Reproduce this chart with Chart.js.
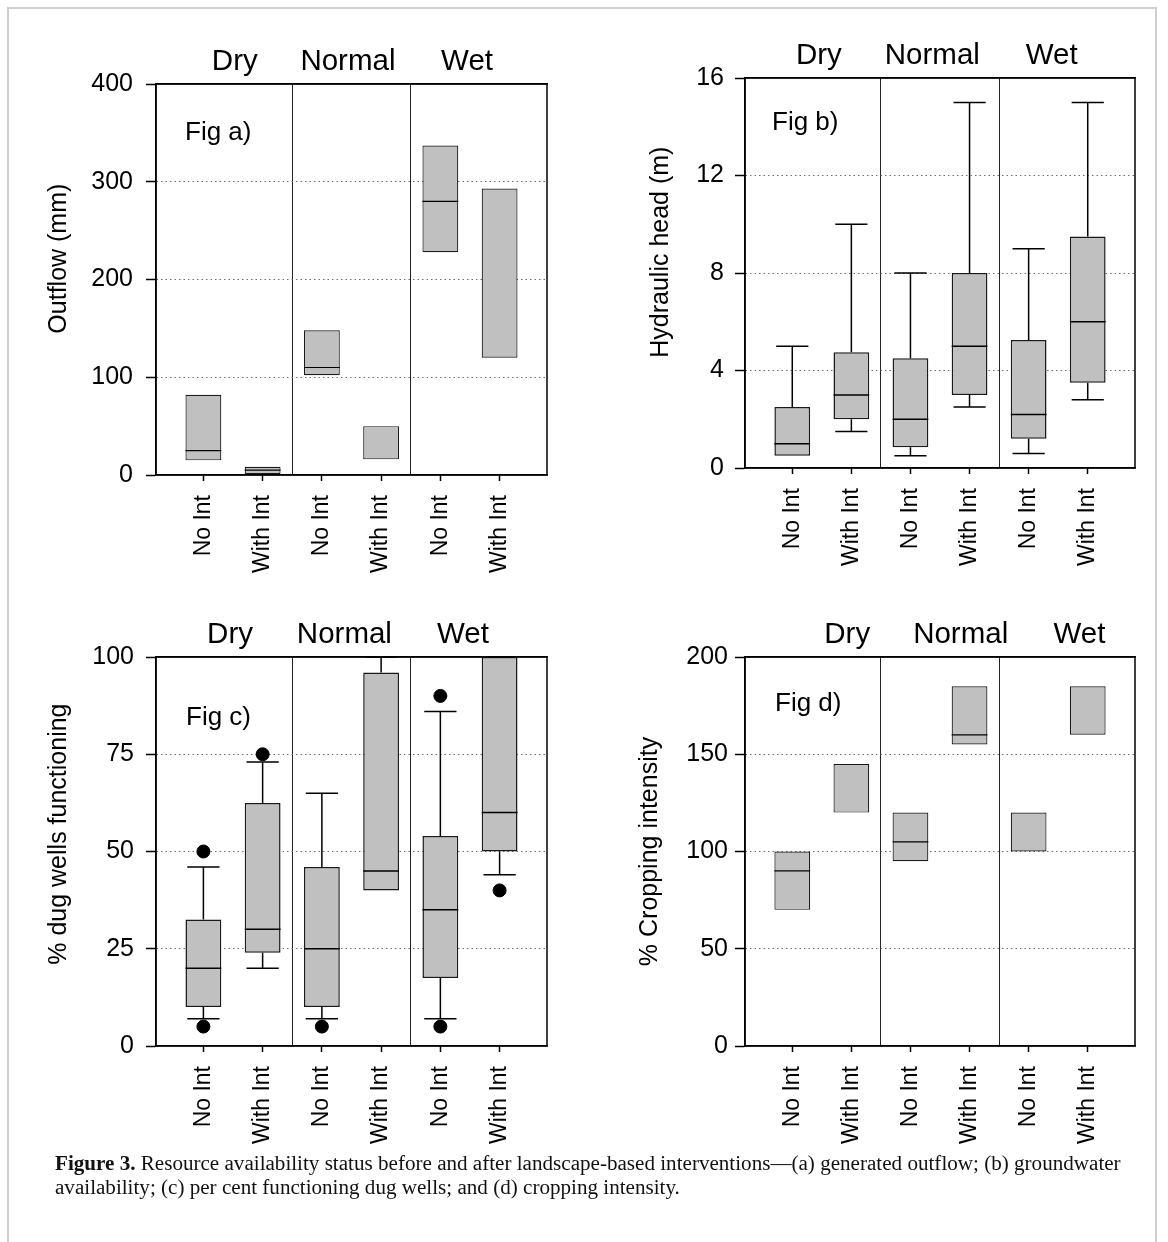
<!DOCTYPE html>
<html>
<head>
<meta charset="utf-8">
<script src="https://cdn.jsdelivr.net/npm/chart.js@4.4.0/dist/chart.umd.min.js"></script>
<style>
  html, body { margin: 0; padding: 0; background: #fff; }
  #page { position: relative; width: 1168px; height: 1242px; overflow: hidden; background: #fff; }
  #frame { position: absolute; left: 7px; top: 7px; width: 1146px; height: 1260px; border: 2px solid #cfcfcf; }
  canvas { position: absolute; }
  #caption { position: absolute; left: 55px; top: 1151px; font-family: "Liberation Serif", "Times New Roman", serif;
             font-size: 21.1px; line-height: 24px; color: #111; white-space: nowrap; }
</style>
</head>
<body>
<div id="page">
  <div id="frame"></div>
  <canvas id="figA"></canvas>
  <canvas id="figB"></canvas>
  <canvas id="figC"></canvas>
  <canvas id="figD"></canvas>
  <div id="caption"><b>Figure 3.</b> Resource availability status before and after landscape-based interventions—(a) generated outflow; (b) groundwater<br>availability; (c) per cent functioning dug wells; and (d) cropping intensity.</div>
</div>
<script>
// categories
const groups = ["Dry", "Normal", "Wet"];
const treatments = ["No Int", "With Int", "No Int", "With Int", "No Int", "With Int"];

// Fig a) outflow (mm)
const outflowTicks = [0, 100, 200, 300, 400];
const outflowQ1 = [15, 1, 102, 16, 228, 120];
const outflowMedian = [25, 5, 110, null, 280, null];
const outflowQ3 = [82, 8.5, 148, 50, 337, 293];

// Fig b) hydraulic head (m)
const headTicks = [0, 4, 8, 12, 16];
const headLow = [0.5, 1.5, 0.5, 2.5, 0.6, 2.8];
const headQ1 = [0.5, 2, 0.85, 3, 1.2, 3.5];
const headMedian = [1, 3, 2, 5, 2.2, 6];
const headQ3 = [2.5, 4.75, 4.5, 8, 5.25, 9.5];
const headHigh = [5, 10, 8, 15, 9, 15];

// Fig c) % dug wells functioning
const wellsTicks = [0, 25, 50, 75, 100];
const wellsLow = [7, 20, 7, 40, 7, 44];
const wellsQ1 = [10, 24, 10, 40, 17.5, 50];
const wellsMedian = [20, 30, 25, 45, 35, 60];
const wellsQ3 = [32.5, 62.5, 46, 96, 54, 100];
const wellsHigh = [46, 73, 65, 100, 86, 100];
const wellsOutLow = [5, null, 5, null, 5, 40];
const wellsOutHigh = [50, 75, null, null, 90, null];

// Fig d) % cropping intensity
const croppingTicks = [0, 50, 100, 150, 200];
const croppingQ1 = [70, 120, 95, 155, 100, 160];
const croppingMedian = [90, null, 105, 160, null, null];
const croppingQ3 = [100, 145, 120, 185, 120, 185];

const FONT = "'Liberation Sans', Arial, sans-serif";
const dividers = [1.5, 3.5];
Chart.defaults.font.family = FONT;
Chart.defaults.color = "#000";

// whiskers under the boxes, medians + frame + panel tag on top
const boxExtras = {
  id: "boxExtras",
  beforeDatasetsDraw(chart, args, o) {
    if (!o.low) return;
    const { ctx } = chart;
    const y = chart.scales.y;
    const bars = chart.getDatasetMeta(0).data;
    ctx.save();
    ctx.strokeStyle = "#000";
    ctx.lineWidth = 1.5;
    bars.forEach((bar, i) => {
      const cap = bar.width * 0.45;
      const ends = [[o.low[i], o.q1[i]], [o.high[i], o.q3[i]]];
      ends.forEach(([tip, edge]) => {
        if (tip == null || tip === edge) return;
        const ty = y.getPixelForValue(tip);
        ctx.beginPath();
        ctx.moveTo(bar.x, y.getPixelForValue(edge));
        ctx.lineTo(bar.x, ty);
        ctx.moveTo(bar.x - cap, ty);
        ctx.lineTo(bar.x + cap, ty);
        ctx.stroke();
      });
    });
    ctx.restore();
  },
  afterDatasetsDraw(chart, args, o) {
    const { ctx, chartArea } = chart;
    const y = chart.scales.y;
    const bars = chart.getDatasetMeta(0).data;
    ctx.save();
    ctx.strokeStyle = "#000";
    ctx.lineWidth = o.medianWidth;
    bars.forEach((bar, i) => {
      const m = o.median[i];
      if (m == null) return;
      const py = y.getPixelForValue(m);
      ctx.beginPath();
      ctx.moveTo(bar.x - bar.width / 2, py);
      ctx.lineTo(bar.x + bar.width / 2, py);
      ctx.stroke();
    });
    ctx.lineWidth = 1.5;
    ctx.strokeRect(chartArea.left, chartArea.top, chartArea.width, chartArea.height);
    ctx.fillStyle = "#000";
    ctx.font = "26px " + FONT;
    ctx.textBaseline = "middle";
    ctx.fillText(o.tag, chartArea.left + o.tagDx, chartArea.top + o.tagDy);
    ctx.restore();
  }
};

function boxPanel(id, p) {
  const yW = 136, topH = 70, botH = 125, padR = 20;
  const canvas = document.getElementById(id);
  canvas.width = p.area.right - p.area.left + yW + padR;
  canvas.height = p.area.bottom - p.area.top + topH + botH;
  canvas.style.left = (p.area.left - yW) + "px";
  canvas.style.top = (p.area.top - topH) + "px";

  const datasets = [{
    type: "bar",
    data: p.q1.map((v, i) => ({ x: i, y: [v, p.q3[i]] })),
    backgroundColor: "#c0c0c0",
    borderColor: "#1a1a1a",
    borderWidth: p.boxBorder,
    borderSkipped: false,
    barPercentage: 0.605,
    categoryPercentage: 1
  }];
  if (p.outliers) {
    const pts = [];
    p.outliers.forEach(arr => arr.forEach((v, i) => { if (v != null) pts.push({ x: i, y: v }); }));
    datasets.push({
      type: "line",
      data: pts,
      showLine: false,
      pointRadius: 6.5,
      pointBackgroundColor: "#000",
      pointBorderColor: "#000",
      clip: false
    });
  }

  const min = p.ticks[0], max = p.ticks[p.ticks.length - 1];
  return new Chart(canvas, {
    type: "bar",
    data: { datasets },
    plugins: [boxExtras],
    options: {
      responsive: false,
      animation: false,
      events: [],
      layout: { padding: { left: 0, top: 0, bottom: 0, right: padR } },
      plugins: {
        legend: { display: false },
        tooltip: { enabled: false },
        boxExtras: {
          low: p.low, q1: p.q1, q3: p.q3, high: p.high, median: p.median,
          medianWidth: p.medianWidth, tag: p.tag, tagDx: p.tagDx, tagDy: p.tagDy
        }
      },
      scales: {
        x: {
          type: "linear", min: -0.8, max: 5.8, offset: false,
          grid: { offset: false, drawOnChartArea: false, tickLength: 6, tickColor: "#000", tickWidth: 1.5 },
          border: { color: "#000", width: 1.5 },
          afterBuildTicks: s => { s.ticks = treatments.map((_, i) => ({ value: i })); },
          afterFit: s => { s.height = botH; },
          ticks: {
            autoSkip: false, minRotation: 90, maxRotation: 90, padding: 14, color: "#000",
            font: { size: 23 }, callback: v => treatments[v]
          }
        },
        x2: {
          type: "linear", position: "top", min: -0.8, max: 5.8, offset: false,
          grid: {
            offset: false, drawTicks: false, lineWidth: 1,
            color: c => (c.tick && dividers.includes(c.tick.value)) ? "#222" : "rgba(0,0,0,0)"
          },
          border: { color: "#000", width: 1.5 },
          afterBuildTicks: s => {
            s.ticks = p.titleAt.concat(dividers).sort((a, b) => a - b).map(v => ({ value: v }));
          },
          afterFit: s => { s.height = topH; },
          ticks: {
            autoSkip: false, maxRotation: 0, padding: 4, color: "#000", font: { size: 29.5 },
            callback: v => { const k = p.titleAt.indexOf(v); return k >= 0 ? groups[k] : ""; }
          }
        },
        y: {
          min, max,
          afterBuildTicks: s => { s.ticks = p.ticks.map(v => ({ value: v })); },
          afterFit: s => { s.width = yW; },
          grid: {
            lineWidth: 1, tickLength: 10, tickColor: "#000", tickWidth: 1.5,
            color: c => (c.tick && (c.tick.value === min || c.tick.value === max)) ? "rgba(0,0,0,0)" : "#6e6e6e"
          },
          border: { color: "#000", width: 1.5, dash: [1.5, 3] },
          ticks: { padding: p.tickPad, color: "#000", font: { size: 25 } },
          title: {
            display: true, text: p.yTitle, color: "#000", font: { size: 25 },
            padding: { top: p.titlePad, bottom: 0 }
          }
        }
      }
    }
  });
}

// leading spaces lift the rotated axis titles a little, as in the original figure
boxPanel("figA", {
  area: { left: 156, top: 84, right: 547, bottom: 475 },
  ticks: outflowTicks, q1: outflowQ1, median: outflowMedian, q3: outflowQ3,
  yTitle: "      Outflow (mm)", titlePad: 24, tickPad: 13,
  titleAt: [0.53, 2.44, 4.45], tag: "Fig a)", tagDx: 29, tagDy: 49,
  boxBorder: 1.2, medianWidth: 1.2
});

boxPanel("figB", {
  area: { left: 745, top: 78, right: 1135, bottom: 468 },
  ticks: headTicks, low: headLow, q1: headQ1, median: headMedian, q3: headQ3, high: headHigh,
  yTitle: "      Hydraulic head (m)", titlePad: 37, tickPad: 11,
  titleAt: [0.45, 2.37, 4.39], tag: "Fig b)", tagDx: 27, tagDy: 45,
  boxBorder: 1.5, medianWidth: 1.5
});

boxPanel("figC", {
  area: { left: 156, top: 657, right: 547, bottom: 1046 },
  ticks: wellsTicks, low: wellsLow, q1: wellsQ1, median: wellsMedian, q3: wellsQ3, high: wellsHigh,
  outliers: [wellsOutLow, wellsOutHigh],
  yTitle: "     % dug wells functioning", titlePad: 24, tickPad: 12,
  titleAt: [0.45, 2.38, 4.38], tag: "Fig c)", tagDx: 30, tagDy: 61,
  boxBorder: 1.5, medianWidth: 1.5
});

boxPanel("figD", {
  area: { left: 745, top: 657, right: 1135, bottom: 1046 },
  ticks: croppingTicks, q1: croppingQ1, median: croppingMedian, q3: croppingQ3,
  yTitle: "% Cropping intensity", titlePad: 26, tickPad: 7,
  titleAt: [0.93, 2.85, 4.86], tag: "Fig d)", tagDx: 30, tagDy: 47,
  boxBorder: 1.2, medianWidth: 1.2
});
</script>
</body>
</html>
